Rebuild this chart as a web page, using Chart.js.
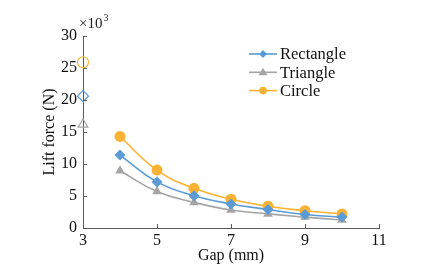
<!DOCTYPE html>
<html>
<head>
<meta charset="utf-8">
<script src="https://cdn.jsdelivr.net/npm/chart.js@4/dist/chart.umd.min.js"></script>
<style>
  html, body { margin: 0; padding: 0; background: #fff; }
  #wrap { width: 448px; height: 271px; }
</style>
</head>
<body>
<div id="wrap"><canvas id="grafico" width="448" height="271"></canvas></div>
<script>
// ========== DATOS ==========
const gaps = [4, 5, 6, 7, 8, 9, 10];
const rectangle = [11.4, 7.2, 5.05, 3.75, 2.9, 2.1, 1.7];
const triangle = [8.95, 5.7, 4.0, 2.8, 2.2, 1.7, 1.25];
const circle = [14.3, 9.05, 6.2, 4.5, 3.4, 2.7, 2.2];

// valores huecos en gap = 3
const gapCero = 3;
const rectangleCero = 20.6;
const triangleCero = 16.2;
const circleCero = 25.9;

const xTicks = [3, 5, 7, 9, 11];
const yTicks = [0, 5, 10, 15, 20, 25, 30];

const seriesNombres = ['Rectangle', 'Triangle', 'Circle'];
const colores = ['#5B9BD5', '#A5A5A5', '#F9B233'];
const formas = ['rectRot', 'triangle', 'circle'];

const fuente = '"Liberation Serif", "Times New Roman", serif';
const colorEje = '#595959';

function puntos(valores) {
  return gaps.map((g, i) => ({ x: g, y: valores[i] }));
}

function serie(i, valores) {
  return {
    label: seriesNombres[i],
    data: puntos(valores),
    borderColor: colores[i],
    backgroundColor: colores[i],
    pointStyle: formas[i],
    pointRadius: 5.5,
    pointBorderWidth: 0,
    borderWidth: 1.6,
    tension: 0.45,
    showLine: true,
    clip: false
  };
}

function hueco(i, valor) {
  return {
    label: seriesNombres[i] + ' 3',
    data: [{ x: gapCero, y: valor }],
    borderColor: colores[i],
    backgroundColor: 'rgba(255,255,255,0)',
    pointStyle: formas[i],
    pointRadius: 5.5,
    pointBorderWidth: 1.2,
    showLine: false,
    clip: false
  };
}

// ========== PLUGINS ==========
const ticksAdentro = {
  id: 'ticksAdentro',
  afterDatasetsDraw(chart) {
    const { ctx, chartArea, scales } = chart;
    ctx.save();
    ctx.strokeStyle = colorEje;
    ctx.lineWidth = 1;
    ctx.beginPath();
    xTicks.forEach(v => {
      const px = Math.round(scales.x.getPixelForValue(v)) + 0.5;
      ctx.moveTo(px, chartArea.bottom);
      ctx.lineTo(px, chartArea.bottom - 4);
    });
    yTicks.forEach(v => {
      const py = Math.round(scales.y.getPixelForValue(v)) + 0.5;
      ctx.moveTo(chartArea.left, py);
      ctx.lineTo(chartArea.left + 4, py);
    });
    ctx.stroke();

    // multiplicador x10^3
    ctx.fillStyle = '#222';
    ctx.textBaseline = 'alphabetic';
    ctx.textAlign = 'left';
    ctx.font = '15px ' + fuente;
    ctx.fillText('×10', chartArea.left - 4, chartArea.top - 8);
    const w = ctx.measureText('×10').width;
    ctx.font = '10px ' + fuente;
    ctx.fillText('3', chartArea.left - 4 + w + 1, chartArea.top - 15);
    ctx.restore();
  }
};

const leyenda = {
  id: 'leyenda',
  afterDraw(chart) {
    const { ctx, chartArea } = chart;
    const x0 = chartArea.left + 166;
    const y0 = chartArea.top + 18;
    ctx.save();
    ctx.font = '16.5px ' + fuente;
    ctx.textBaseline = 'middle';
    ctx.textAlign = 'left';
    seriesNombres.forEach((nombre, i) => {
      const y = y0 + i * 18.3;
      ctx.strokeStyle = colores[i];
      ctx.fillStyle = colores[i];
      ctx.lineWidth = 1.6;
      ctx.beginPath();
      ctx.moveTo(x0, y);
      ctx.lineTo(x0 + 28, y);
      ctx.stroke();
      const cx = x0 + 14;
      ctx.beginPath();
      if (formas[i] === 'rectRot') {
        ctx.moveTo(cx, y - 4); ctx.lineTo(cx + 4, y); ctx.lineTo(cx, y + 4); ctx.lineTo(cx - 4, y);
      } else if (formas[i] === 'triangle') {
        ctx.moveTo(cx, y - 4.5); ctx.lineTo(cx + 4.5, y + 3); ctx.lineTo(cx - 4.5, y + 3);
      } else {
        ctx.arc(cx, y, 3.8, 0, Math.PI * 2);
      }
      ctx.closePath();
      ctx.fill();
      ctx.fillStyle = '#111';
      ctx.fillText(nombre, x0 + 31, y + 1);
    });
    ctx.restore();
  }
};

// ========== GRAFICO ==========
new Chart(document.getElementById('grafico'), {
  type: 'scatter',
  data: {
    datasets: [
      serie(0, rectangle),
      serie(1, triangle),
      serie(2, circle),
      hueco(0, rectangleCero),
      hueco(1, triangleCero),
      hueco(2, circleCero)
    ]
  },
  options: {
    responsive: false,
    animation: false,
    layout: { padding: { top: 36, right: 69, left: 0, bottom: 0 } },
    plugins: {
      legend: { display: false },
      tooltip: { enabled: false }
    },
    scales: {
      x: {
        type: 'linear',
        min: 3,
        max: 11,
        afterBuildTicks(scale) { scale.ticks = xTicks.map(v => ({ value: v })); },
        afterFit(scale) { scale.height = 43; },
        grid: { display: true, drawOnChartArea: false, drawTicks: false },
        border: { display: true, color: colorEje, width: 1 },
        ticks: { color: '#111', font: { family: fuente, size: 16 }, padding: 3, maxRotation: 0 },
        title: {
          display: true,
          text: 'Gap (mm)',
          color: '#111',
          font: { family: fuente, size: 16 },
          padding: { top: 0, bottom: 6 }
        }
      },
      y: {
        type: 'linear',
        min: 0,
        max: 30,
        afterBuildTicks(scale) { scale.ticks = yTicks.map(v => ({ value: v })); },
        afterFit(scale) { scale.width = 83; },
        grid: { display: true, drawOnChartArea: false, drawTicks: false },
        border: { display: true, color: colorEje, width: 1 },
        ticks: { color: '#111', font: { family: fuente, size: 16 }, padding: 6 },
        title: {
          display: true,
          text: 'Lift force (N)',
          color: '#111',
          font: { family: fuente, size: 16 },
          padding: { top: 40, bottom: 0 }
        }
      }
    }
  },
  plugins: [ticksAdentro, leyenda]
});
</script>
</body>
</html>
